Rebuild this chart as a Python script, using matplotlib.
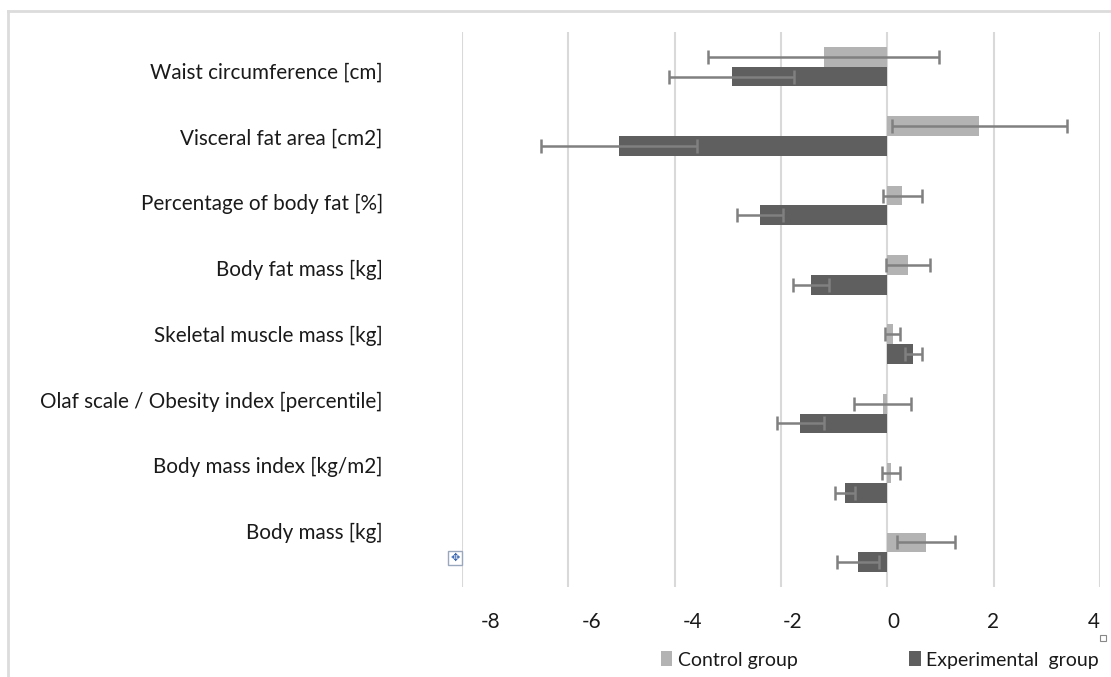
import matplotlib
matplotlib.use("Agg")
import matplotlib.pyplot as plt
from matplotlib.lines import Line2D
from matplotlib.patches import Rectangle
import numpy as np

categories = ["Waist circumference [cm]", "Visceral fat area [cm2]",
              "Percentage of body fat [%]", "Body fat mass [kg]",
              "Skeletal muscle mass [kg]", "Olaf scale / Obesity index [percentile]",
              "Body mass index [kg/m2]", "Body mass [kg]"]
control = [-1.20, 1.73, 0.28, 0.39, 0.10, -0.09, 0.07, 0.73]
control_err = [2.18, 1.65, 0.37, 0.42, 0.14, 0.53, 0.17, 0.54]
experimental = [-2.93, -5.05, -2.39, -1.43, 0.49, -1.64, -0.79, -0.55]
experimental_err = [1.17, 1.47, 0.43, 0.34, 0.16, 0.44, 0.19, 0.39]
xticks = [-8, -6, -4, -2, 0, 2, 4]
series_names = ["Control group", "Experimental  group"]

plt.rcParams['font.family'] = ['Lato', 'DejaVu Sans']
W, H = 1111, 677
fig = plt.figure(figsize=(W / 100, H / 100), dpi=100)
ax = fig.add_axes([462 / W, 1 - 587 / H, (1100 - 462) / W, (587 - 32) / H])

light = "#b3b3b3"
dark = "#5f5f5f"
errc = "#808080"
txtc = "#1a1a1a"
bh = 0.285
y = np.arange(len(categories))

b1 = ax.barh(y - bh / 2, control, height=bh, color=light, zorder=2)
b2 = ax.barh(y + bh / 2, experimental, height=bh, color=dark, zorder=2)
ax.errorbar(control, y - bh / 2, xerr=control_err, fmt="none", ecolor=errc,
            elinewidth=1.8, capsize=5, capthick=1.8, zorder=3)
ax.errorbar(experimental, y + bh / 2, xerr=experimental_err, fmt="none", ecolor=errc,
            elinewidth=1.8, capsize=5, capthick=1.8, zorder=3)

ax.set_xlim(-8, 4)
ax.set_ylim(7.5, -0.5)
ax.set_xticks(xticks)
ax.grid(axis="x", color="#d9d9d9", linewidth=1.5, zorder=0)
ax.set_axisbelow(True)
for s in ax.spines.values():
    s.set_visible(False)
ax.tick_params(axis="both", length=0, labelbottom=False, labelleft=False)
ax.set_yticks([])

# category labels (their own scale, as in the reference)
axl = ax.twinx()
axl.set_ylim((587 - 71) / 65.7, (32 - 71) / 65.7)
axl.yaxis.set_ticks_position("left")
axl.set_yticks(y)
axl.set_yticklabels(categories, fontsize=14.9, color=txtc)
axl.tick_params(axis="y", length=0, pad=57, labelleft=True, labelright=False)
for s in axl.spines.values():
    s.set_visible(False)

# x tick labels (their own scale, as in the reference)
axt = ax.twiny()
axt.set_xlim((462 - 893) / 50.25, (1100 - 893) / 50.25)
axt.xaxis.set_ticks_position("bottom")
axt.set_xticks(xticks)
axt.set_xticklabels([str(v) for v in xticks], fontsize=14.9, color=txtc)
axt.tick_params(axis="x", length=0, pad=18, labelbottom=True, labeltop=False)
for s in axt.spines.values():
    s.set_visible(False)

fig.legend([b1, b2], series_names, loc="center", bbox_to_anchor=(880 / W, 1 - 660 / H),
           ncol=2, frameon=False, fontsize=14, handlelength=0.6, handleheight=0.8,
           handletextpad=0.3, columnspacing=5.7, labelcolor=txtc)

# outer frame
fig.add_artist(Line2D([8 / W, 1], [1 - 11 / H, 1 - 11 / H], color="#dcdcdc", lw=2))
fig.add_artist(Line2D([8 / W, 8 / W], [0, 1 - 11 / H], color="#dcdcdc", lw=2))
# small UI marks
fig.add_artist(Rectangle((448 / W, 1 - 565 / H), 14 / W, 14 / H, facecolor="white",
                         edgecolor="#9aa8bd", lw=1))
fig.text(455 / W, 1 - 558 / H, "\u2725", fontsize=8, color="#3a66b0",
         ha="center", va="center", family="DejaVu Sans")
fig.add_artist(Rectangle((1100 / W, 1 - 641 / H), 6 / W, 6 / H, facecolor="white",
                         edgecolor="#888888", lw=0.8))

fig.savefig("out.png", dpi=100)
